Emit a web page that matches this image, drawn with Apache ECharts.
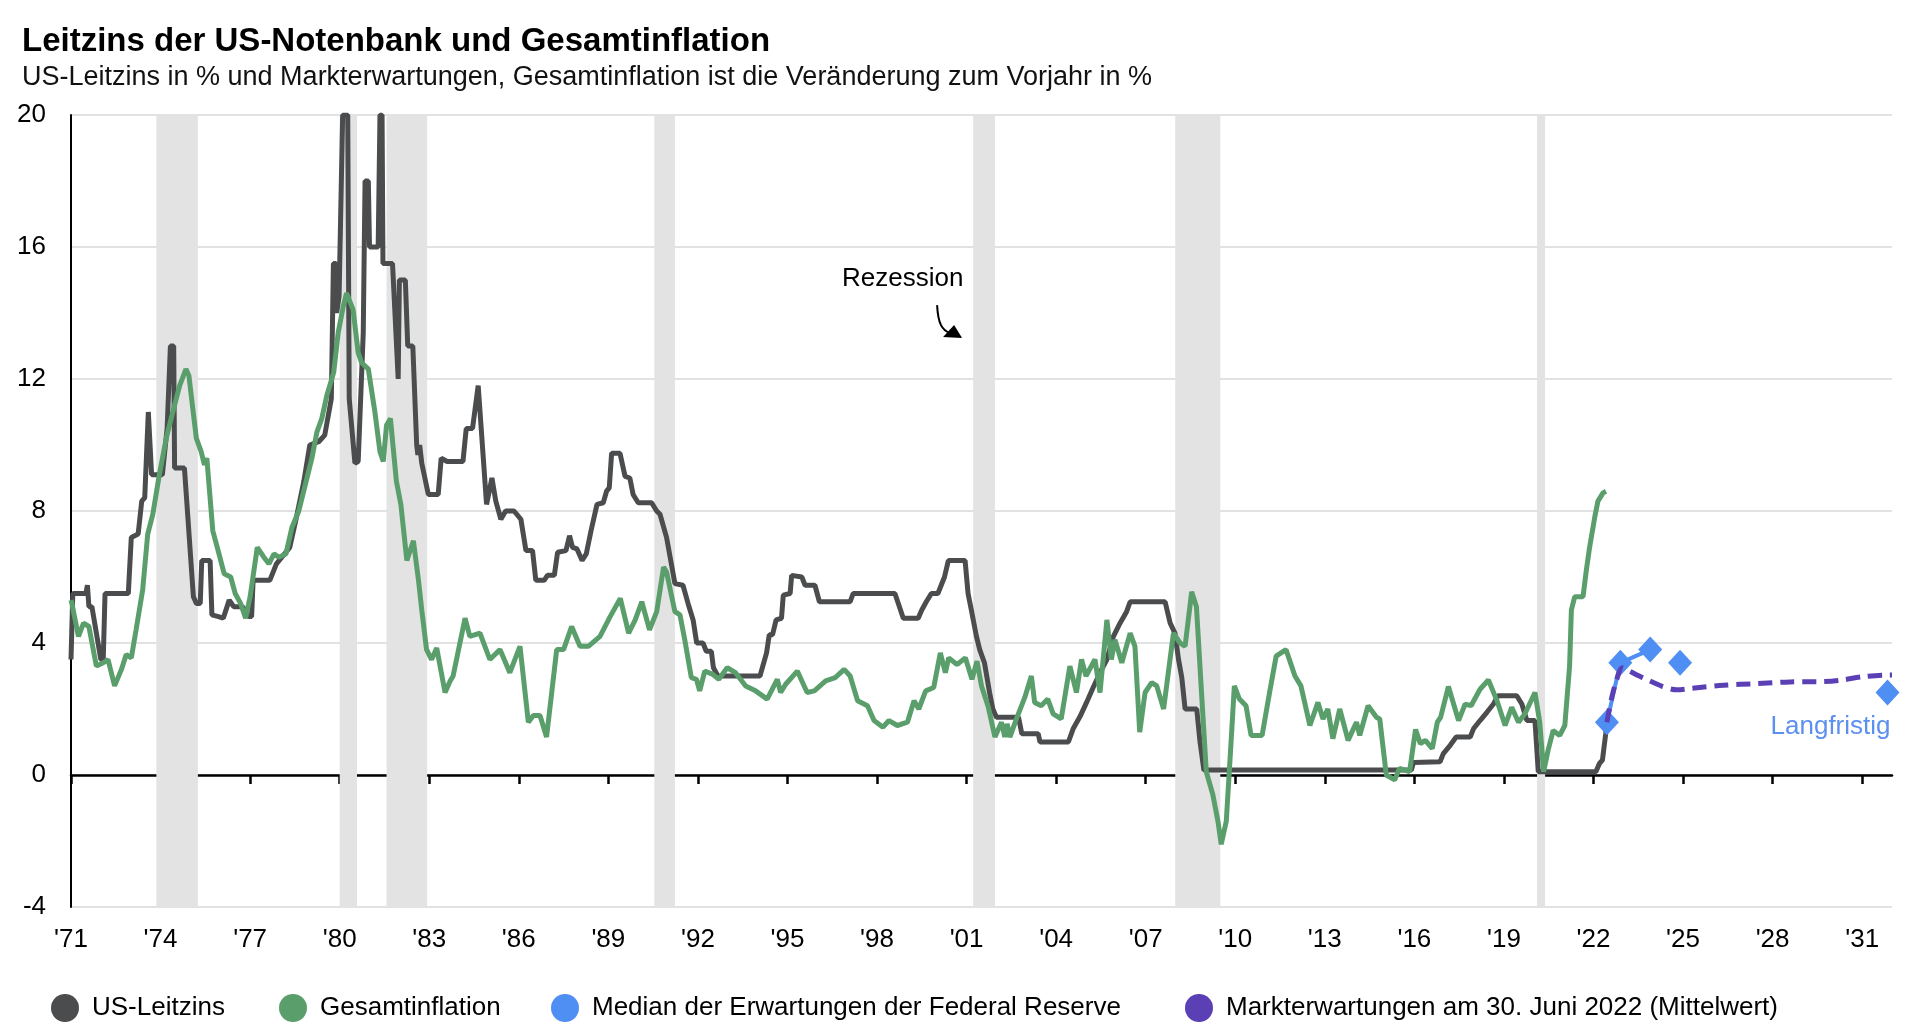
<!DOCTYPE html>
<html>
<head>
<meta charset="utf-8">
<script src="https://cdn.jsdelivr.net/npm/echarts@6/dist/echarts.min.js"></script>
<style>
html,body{margin:0;padding:0;background:#fff;}
#chart{width:1918px;height:1033px;}
</style>
</head>
<body>
<div id="chart"></div>
<script>
// ---- data ----
const titleText = 'Leitzins der US-Notenbank und Gesamtinflation';
const subtitleText = 'US-Leitzins in % und Markterwartungen, Gesamtinflation ist die Veränderung zum Vorjahr in %';
const seriesNames = ['US-Leitzins','Gesamtinflation','Median der Erwartungen der Federal Reserve','Markterwartungen am 30. Juni 2022 (Mittelwert)'];
const xTicks = [1971,1974,1977,1980,1983,1986,1989,1992,1995,1998,2001,2004,2007,2010,2013,2016,2019,2022,2025,2028,2031];
const yTicks = [-4,0,4,8,12,16,20];
const recessions = [[1973.86,1975.25],[1980.0,1980.58],[1981.57,1982.93],[1990.54,1991.23],[2001.22,2001.95],[2007.99,2009.5],[2020.11,2020.38]];

const fedFunds = [[1971.0,3.5],[1971.06,5.5],[1971.5,5.5],[1971.55,5.75],[1971.6,5.1],[1971.7,5.1],[1972.0,3.5],[1972.08,3.5],[1972.14,5.5],[1972.92,5.5],[1973.02,7.2],[1973.25,7.3],[1973.37,8.3],[1973.47,8.4],[1973.59,11.0],[1973.63,11.0],[1973.7,9.1],[1974.06,9.1],[1974.22,10.5],[1974.33,13.0],[1974.44,13.0],[1974.47,9.3],[1974.8,9.3],[1975.1,5.4],[1975.2,5.2],[1975.33,5.2],[1975.38,6.5],[1975.66,6.5],[1975.72,4.85],[1975.94,4.8],[1976.1,4.75],[1976.3,5.3],[1976.45,5.1],[1976.75,5.1],[1976.95,4.8],[1977.05,4.8],[1977.1,5.9],[1977.66,5.9],[1977.88,6.4],[1978.33,6.9],[1978.55,7.8],[1978.8,8.9],[1979.0,10.0],[1979.3,10.1],[1979.5,10.3],[1979.72,11.4],[1979.79,15.5],[1979.88,15.5],[1979.9,14.0],[1979.98,14.5],[1980.1,20],[1980.27,20],[1980.32,11.4],[1980.51,9.45],[1980.62,9.5],[1980.79,13.4],[1980.85,18.0],[1980.96,18.0],[1981.0,16.0],[1981.29,16.0],[1981.35,20],[1981.42,20],[1981.45,15.5],[1981.77,15.5],[1981.96,12.0],[1982.0,15.0],[1982.2,15.0],[1982.28,13.0],[1982.45,13.0],[1982.58,10.0],[1982.62,9.7],[1982.68,10.0],[1982.75,9.45],[1982.97,8.5],[1983.3,8.5],[1983.4,9.6],[1983.6,9.5],[1984.13,9.5],[1984.24,10.5],[1984.45,10.5],[1984.64,11.8],[1984.7,11.8],[1984.92,8.2],[1985.1,9.0],[1985.23,8.3],[1985.4,7.75],[1985.56,8.0],[1985.84,8.0],[1986.07,7.75],[1986.24,6.8],[1986.46,6.8],[1986.57,5.9],[1986.85,5.9],[1986.96,6.05],[1987.19,6.05],[1987.3,6.75],[1987.58,6.8],[1987.7,7.25],[1987.8,6.9],[1987.95,6.85],[1988.12,6.5],[1988.26,6.7],[1988.42,7.4],[1988.62,8.2],[1988.83,8.25],[1988.94,8.6],[1989.03,8.7],[1989.11,9.75],[1989.39,9.75],[1989.56,9.05],[1989.72,9.0],[1989.83,8.5],[1990.0,8.25],[1990.45,8.25],[1990.62,8.0],[1990.73,7.9],[1990.95,7.2],[1991.23,5.8],[1991.5,5.75],[1991.67,5.2],[1991.84,4.7],[1991.96,4.0],[1992.17,4.0],[1992.28,3.75],[1992.45,3.75],[1992.52,3.25],[1992.67,3.0],[1994.08,3.0],[1994.3,3.7],[1994.39,4.25],[1994.5,4.25],[1994.62,4.7],[1994.8,4.75],[1994.86,5.45],[1995.09,5.5],[1995.14,6.05],[1995.48,6.0],[1995.59,5.75],[1995.92,5.75],[1996.07,5.25],[1997.1,5.25],[1997.2,5.5],[1998.6,5.5],[1998.88,4.75],[1999.38,4.75],[1999.5,5.0],[1999.65,5.25],[1999.82,5.5],[2000.04,5.5],[2000.15,5.75],[2000.26,6.0],[2000.39,6.5],[2000.95,6.5],[2001.05,5.5],[2001.16,5.0],[2001.33,4.2],[2001.44,3.8],[2001.6,3.4],[2001.77,2.5],[2001.88,2.0],[2002.0,1.75],[2002.74,1.75],[2002.85,1.25],[2003.4,1.25],[2003.46,1.0],[2004.41,1.0],[2004.57,1.4],[2004.8,1.77],[2005.02,2.2],[2005.24,2.65],[2005.47,3.1],[2005.7,3.5],[2005.92,4.2],[2006.14,4.6],[2006.36,4.95],[2006.48,5.25],[2007.65,5.25],[2007.82,4.6],[2007.98,4.3],[2008.1,3.5],[2008.21,2.95],[2008.32,2.0],[2008.71,2.0],[2008.82,1.0],[2008.95,0.15],[2015.9,0.15],[2015.97,0.38],[2016.86,0.4],[2016.97,0.65],[2017.2,0.9],[2017.4,1.15],[2017.87,1.15],[2017.98,1.4],[2018.2,1.65],[2018.43,1.9],[2018.65,2.15],[2018.8,2.4],[2019.43,2.4],[2019.6,2.15],[2019.77,1.65],[2020.04,1.65],[2020.15,0.1],[2022.08,0.1],[2022.2,0.35],[2022.3,0.45],[2022.41,1.25],[2022.45,1.6]];

const inflation = [[1971.0,5.3],[1971.03,5.2],[1971.25,4.2],[1971.42,4.6],[1971.6,4.5],[1971.85,3.3],[1972.08,3.4],[1972.24,3.5],[1972.46,2.7],[1972.69,3.2],[1972.85,3.65],[1973.02,3.55],[1973.18,4.4],[1973.4,5.6],[1973.57,7.3],[1973.74,7.9],[1973.96,9.1],[1974.19,10.2],[1974.41,11.0],[1974.64,11.8],[1974.85,12.3],[1974.95,12.1],[1975.08,11.1],[1975.2,10.2],[1975.36,9.8],[1975.47,9.4],[1975.55,9.6],[1975.75,7.4],[1975.9,6.9],[1976.13,6.1],[1976.35,6.0],[1976.5,5.5],[1976.68,5.2],[1976.85,4.75],[1977.0,5.4],[1977.24,6.9],[1977.46,6.6],[1977.63,6.4],[1977.8,6.7],[1977.96,6.6],[1978.2,6.7],[1978.4,7.5],[1978.63,8.0],[1978.85,8.8],[1979.07,9.6],[1979.24,10.4],[1979.4,10.8],[1979.57,11.5],[1979.8,12.2],[1979.95,13.4],[1980.12,14.2],[1980.23,14.6],[1980.45,14.1],[1980.62,12.8],[1980.73,12.5],[1980.96,12.3],[1981.18,11.0],[1981.35,9.8],[1981.46,9.5],[1981.57,10.6],[1981.7,10.8],[1981.9,8.9],[1982.05,8.2],[1982.25,6.5],[1982.47,7.1],[1982.64,5.9],[1982.75,5.0],[1982.91,3.8],[1983.08,3.5],[1983.25,3.85],[1983.53,2.5],[1983.7,2.85],[1983.8,3.0],[1984.2,4.75],[1984.36,4.2],[1984.7,4.3],[1985.03,3.5],[1985.37,3.8],[1985.7,3.1],[1986.04,3.9],[1986.32,1.6],[1986.49,1.8],[1986.71,1.8],[1986.93,1.15],[1987.27,3.8],[1987.5,3.8],[1987.77,4.5],[1988.05,3.9],[1988.33,3.9],[1988.72,4.2],[1989.06,4.8],[1989.4,5.35],[1989.68,4.3],[1989.9,4.7],[1990.12,5.25],[1990.38,4.4],[1990.62,4.95],[1990.85,6.3],[1990.95,6.15],[1991.23,4.95],[1991.4,4.85],[1991.56,4.1],[1991.78,2.95],[1991.95,2.9],[1992.06,2.55],[1992.23,3.15],[1992.5,3.05],[1992.7,2.9],[1992.98,3.25],[1993.26,3.1],[1993.6,2.7],[1993.93,2.55],[1994.32,2.3],[1994.66,2.9],[1994.77,2.5],[1994.94,2.75],[1995.33,3.15],[1995.66,2.5],[1995.9,2.55],[1996.28,2.85],[1996.6,2.95],[1996.9,3.2],[1997.1,3.0],[1997.35,2.25],[1997.68,2.1],[1997.9,1.65],[1998.2,1.45],[1998.4,1.65],[1998.68,1.5],[1999.02,1.6],[1999.24,2.25],[1999.4,2.0],[1999.63,2.55],[1999.9,2.65],[2000.12,3.7],[2000.29,3.1],[2000.4,3.55],[2000.68,3.35],[2000.96,3.55],[2001.18,2.9],[2001.35,3.45],[2001.5,2.7],[2001.73,2.05],[2001.95,1.15],[2002.17,1.6],[2002.28,1.15],[2002.36,1.55],[2002.45,1.15],[2002.67,1.7],[2002.95,2.35],[2003.17,3.0],[2003.28,2.2],[2003.5,2.1],[2003.72,2.3],[2003.9,1.85],[2004.17,1.7],[2004.46,3.3],[2004.68,2.5],[2004.85,3.5],[2005.0,3.0],[2005.3,3.5],[2005.47,2.5],[2005.7,4.7],[2005.85,3.5],[2005.97,4.1],[2006.2,3.4],[2006.48,4.3],[2006.64,3.9],[2006.8,1.3],[2006.98,2.5],[2007.2,2.8],[2007.37,2.7],[2007.6,2.0],[2007.93,4.3],[2008.15,4.0],[2008.32,3.9],[2008.54,5.55],[2008.7,5.1],[2008.87,2.5],[2009.03,0.1],[2009.25,-0.6],[2009.42,-1.4],[2009.53,-2.1],[2009.7,-1.4],[2009.86,1.0],[2009.97,2.7],[2010.14,2.3],[2010.36,2.1],[2010.53,1.2],[2010.9,1.2],[2011.15,2.5],[2011.37,3.6],[2011.7,3.8],[2012.0,3.0],[2012.2,2.7],[2012.5,1.5],[2012.77,2.2],[2012.94,1.7],[2013.1,2.0],[2013.27,1.1],[2013.5,2.0],[2013.78,1.05],[2014.06,1.6],[2014.17,1.2],[2014.45,2.1],[2014.73,1.75],[2014.84,1.7],[2015.06,0.0],[2015.34,-0.15],[2015.5,0.2],[2015.84,0.1],[2016.04,1.38],[2016.2,0.95],[2016.37,1.05],[2016.6,0.8],[2016.77,1.6],[2016.88,1.75],[2017.14,2.68],[2017.48,1.65],[2017.7,2.15],[2017.9,2.1],[2018.2,2.6],[2018.48,2.88],[2018.76,2.27],[2019.04,1.5],[2019.26,2.05],[2019.49,1.6],[2019.7,1.85],[2020.04,2.5],[2020.2,1.6],[2020.33,0.1],[2020.48,0.75],[2020.65,1.35],[2020.87,1.2],[2021.04,1.5],[2021.2,3.3],[2021.26,5.0],[2021.37,5.4],[2021.65,5.4],[2021.76,6.2],[2021.87,6.9],[2022.04,7.8],[2022.15,8.3],[2022.32,8.55],[2022.42,8.6]];

// FOMC median: '-' entries break the connecting line
const fedMedian = [[2022.45,1.6],[2022.9,3.4],[2023.9,3.8],[2024.4,'-'],[2024.9,3.4],[2028.0,'-'],[2031.85,2.5]];
const marketExp = [[2022.45,1.6],[2022.6,2.3],[2022.78,2.9],[2022.97,3.25],[2023.2,3.15],[2023.65,2.95],[2024.32,2.68],[2024.79,2.58],[2025.24,2.62],[2026.35,2.72],[2027.47,2.77],[2028.59,2.82],[2029.7,2.83],[2030.26,2.87],[2031.04,2.98],[2031.88,3.03],[2032.0,3.03]];

const annRezession = {text:'Rezession', tip:[2000.85,13.24]};
const annLangfristig = {text:'Langfristig', at:[2031.95,1.45]};

// ---- chart ----
const FONT = "'Liberation Sans', Arial, sans-serif";
const C_DARK = '#4b4c4e', C_GREEN = '#5a9e6c', C_BLUE = '#4f8ef2', C_PURPLE = '#5b3fb5';
const chart = echarts.init(document.getElementById('chart'), null, {renderer:'canvas'});

function legendAt(name, left){
  return {data:[name], left:left, top:989, itemWidth:28, itemHeight:28, icon:'circle',
    textStyle:{fontFamily:FONT, fontSize:26, color:'#000', padding:[0,0,0,8]}, selectedMode:false};
}

const option = {
  animation:false,
  backgroundColor:'#fff',
  title:[
    {text:titleText, left:17, top:19, textStyle:{fontFamily:FONT, fontSize:33, fontWeight:'bold', color:'#000', lineHeight:36}},
    {text:subtitleText, left:17, top:58, textStyle:{fontFamily:FONT, fontSize:27, fontWeight:'normal', color:'#111', lineHeight:30}}
  ],
  legend:[
    legendAt(seriesNames[0], 46),
    legendAt(seriesNames[1], 274),
    legendAt(seriesNames[2], 546),
    legendAt(seriesNames[3], 1180)
  ],
  grid:{left:71, right:26, top:115, bottom:126, containLabel:false},
  xAxis:[
    {type:'value', min:1971, max:2032, interval:3, position:'bottom',
     axisLine:{show:false, onZero:false}, axisTick:{show:false}, splitLine:{show:false},
     axisLabel:{customValues:xTicks, fontFamily:FONT, fontSize:26, color:'#000', margin:20,
       formatter:function(v){return "'" + String(Math.round(v)).slice(2);}}},
    {type:'value', min:1971, max:2032, interval:3, position:'bottom',
     axisLine:{show:true, onZero:true, lineStyle:{color:'#000', width:2.5}},
     axisTick:{show:true, customValues:xTicks, length:9, lineStyle:{color:'#000', width:2.5}},
     axisLabel:{show:false}, splitLine:{show:false}}
  ],
  yAxis:{type:'value', min:-4, max:20, interval:4,
    axisLine:{show:true, lineStyle:{color:'#000', width:2}},
    axisTick:{show:false},
    axisLabel:{customValues:yTicks, fontFamily:FONT, fontSize:26, color:'#000', margin:25},
    splitLine:{show:true, lineStyle:{color:'#d9d9d9', width:1.5}}},
  series:[
    {type:'line', name:'Rezession', data:[], silent:true, z:1,
     markArea:{silent:true, itemStyle:{color:'#e3e3e3'},
       data:recessions.map(function(r){return [{xAxis:r[0]},{xAxis:r[1]}];})}},
    {type:'line', name:seriesNames[0], data:fedFunds, showSymbol:false, z:3,
     itemStyle:{color:C_DARK}, lineStyle:{color:C_DARK, width:5}},
    {type:'line', name:seriesNames[1], data:inflation, showSymbol:false, z:4,
     itemStyle:{color:C_GREEN}, lineStyle:{color:C_GREEN, width:5}},
    {type:'line', name:seriesNames[2], data:fedMedian, showSymbol:true, symbol:'diamond', symbolSize:[24,26], z:5,
     connectNulls:false, itemStyle:{color:C_BLUE}, lineStyle:{color:C_BLUE, width:4}},
    {type:'line', name:seriesNames[3], data:marketExp, showSymbol:false, z:6, smooth:0.3,
     itemStyle:{color:C_PURPLE}, lineStyle:{color:C_PURPLE, width:5, type:[14,8]}}
  ]
};
chart.setOption(option);

// annotations placed from data coordinates
const tip = chart.convertToPixel({xAxisIndex:0, yAxisIndex:0}, annRezession.tip);
const lf = chart.convertToPixel({xAxisIndex:0, yAxisIndex:0}, annLangfristig.at);
chart.setOption({graphic:[
  {type:'text', left:tip[0]-120, top:tip[1]-72, style:{text:annRezession.text, fontFamily:FONT, fontSize:26, fill:'#000'}, z:20},
  {type:'bezierCurve', shape:{x1:tip[0]-25, y1:tip[1]-33, cpx1:tip[0]-24, cpy1:tip[1]-14, cpx2:tip[0]-20, cpy2:tip[1]-8, x2:tip[0]-12, y2:tip[1]-5},
   style:{stroke:'#000', lineWidth:2, fill:null}, z:20},
  {type:'polygon', shape:{points:[[tip[0],tip[1]],[tip[0]-19,tip[1]-1],[tip[0]-8,tip[1]-13]]}, style:{fill:'#000'}, z:20},
  {type:'text', x:lf[0], y:lf[1], style:{text:annLangfristig.text, fontFamily:FONT, fontSize:26, fill:'#5b8ff0', align:'right', verticalAlign:'middle'}, z:20}
]});
</script>
</body>
</html>
